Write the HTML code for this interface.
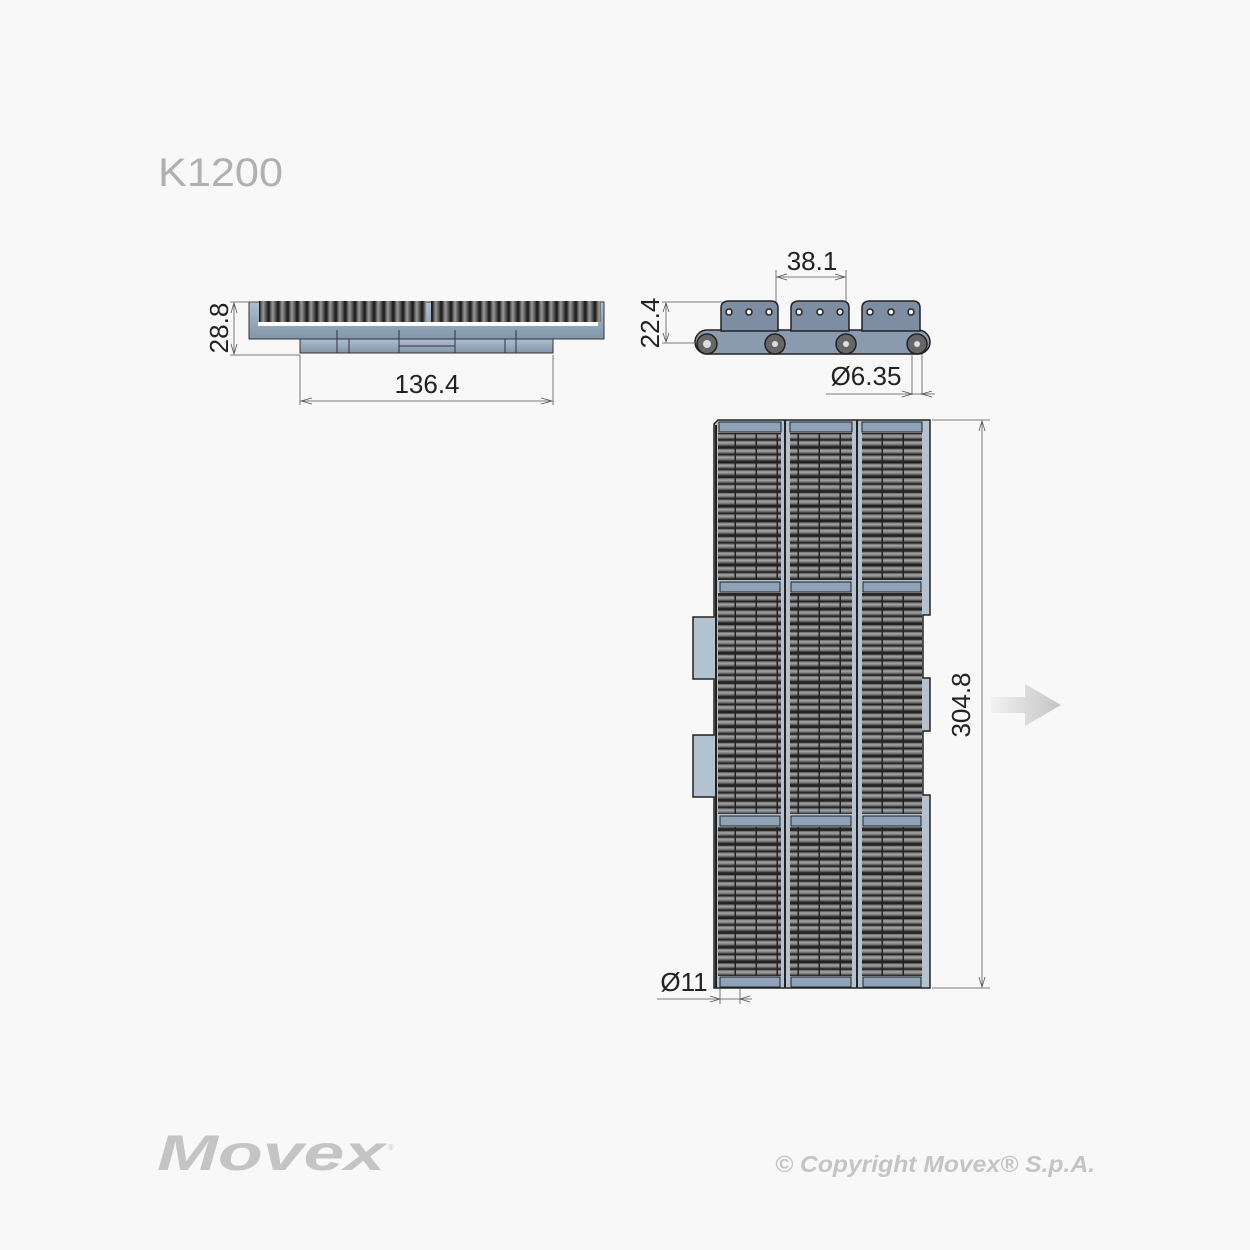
<!DOCTYPE html>
<html><head><meta charset="utf-8"><style>
html,body{margin:0;padding:0;background:#f8f8f8;}
svg{display:block}
text{font-family:"Liberation Sans",sans-serif;}
</style></head><body>
<svg width="1250" height="1250" viewBox="0 0 1250 1250" xmlns="http://www.w3.org/2000/svg">
<defs>
<linearGradient id="rl" x1="0" y1="0" x2="0" y2="1">
<stop offset="0" stop-color="#5a5a5a"/><stop offset="0.35" stop-color="#a8a8a8"/><stop offset="0.7" stop-color="#777"/><stop offset="1" stop-color="#2a2a2a"/>
</linearGradient>
<linearGradient id="rv" x1="0" y1="0" x2="1" y2="0">
<stop offset="0" stop-color="#3a3a3a"/><stop offset="0.4" stop-color="#9a9a9a"/><stop offset="1" stop-color="#333"/>
</linearGradient>
<linearGradient id="bl" x1="0" y1="0" x2="0" y2="1">
<stop offset="0" stop-color="#aebfcf"/><stop offset="1" stop-color="#8196ab"/>
</linearGradient>
<linearGradient id="ar" x1="0" y1="0" x2="1" y2="0">
<stop offset="0" stop-color="#f2f2f2"/><stop offset="1" stop-color="#c4c4c4"/>
</linearGradient>
<pattern id="rows" x="0" y="433" width="21" height="14.7" patternUnits="userSpaceOnUse">
<rect x="0" y="0" width="21" height="14.7" fill="#222"/>
<rect x="1" y="1" width="19.5" height="5.5" fill="url(#rl)"/>
<rect x="1" y="7.6" width="19.5" height="5.8" fill="url(#rl)"/>
</pattern>
<pattern id="vr" x="259" y="0" width="9.6" height="30" patternUnits="userSpaceOnUse">
<rect x="0" y="0" width="9.6" height="30" fill="#222"/>
<rect x="1" y="0" width="7.5" height="30" fill="url(#rv)"/>
</pattern>
</defs>

<text x="158" y="186" font-size="40" fill="#b0b0b0" textLength="125" lengthAdjust="spacingAndGlyphs">K1200</text>

<!-- Side view left -->
<rect x="249" y="302" width="355" height="37" fill="url(#bl)" stroke="#333" stroke-width="1"/>
<rect x="259" y="301" width="167" height="21" fill="url(#vr)"/>
<rect x="431" y="301" width="170" height="21" fill="url(#vr)"/>
<rect x="258" y="322" width="340" height="4" fill="#fff"/>
<rect x="300" y="339" width="253" height="14" fill="url(#bl)" stroke="#333" stroke-width="1"/>
<g stroke="#334" stroke-width="1">
<line x1="337" y1="330" x2="337" y2="353"/><line x1="349" y1="339" x2="349" y2="353"/>
<line x1="399" y1="330" x2="399" y2="353"/><line x1="455" y1="330" x2="455" y2="353"/>
<line x1="505" y1="339" x2="505" y2="353"/><line x1="516" y1="330" x2="516" y2="353"/>
<line x1="399" y1="346" x2="455" y2="346"/>
</g>
<g stroke="#555" stroke-width="0.8" fill="none">
<line x1="230" y1="302" x2="258" y2="302"/><line x1="230" y1="355" x2="300" y2="355"/>
<line x1="234" y1="303" x2="234" y2="354"/>
<line x1="300" y1="355" x2="300" y2="405"/><line x1="553" y1="355" x2="553" y2="405"/>
<line x1="301" y1="401" x2="552" y2="401"/>
<path d="M312 398 L301 401 L312 404 M541 398 L552 401 L541 404 M231 313 L234 303 L237 313 M231 344 L234 354 L237 344"/>
</g>
<text x="228" y="328" font-size="26" fill="#222" transform="rotate(-90 228 328)" text-anchor="middle">28.8</text>
<text x="427" y="393" font-size="26" fill="#222" text-anchor="middle">136.4</text>

<!-- Side view right -->
<g stroke="#222" stroke-width="1.5">
<rect x="695" y="330" width="235" height="24" rx="12" fill="#8a9bb0"/>
<path d="M721 331 L721 308 Q721 301 729 301 L771 301 Q778 301 778 308 L778 331 Z" fill="#7d8da2"/>
<path d="M791 331 L791 308 Q791 301 799 301 L842 301 Q849 301 849 308 L849 331 Z" fill="#7d8da2"/>
<path d="M862 331 L862 308 Q862 301 870 301 L913 301 Q920 301 920 308 L920 331 Z" fill="#7d8da2"/>
</g>
<g fill="#fff" stroke="#222" stroke-width="1.5">
<circle cx="729" cy="312" r="3"/><circle cx="749" cy="312" r="3"/><circle cx="769" cy="312" r="3"/>
<circle cx="799" cy="312" r="3"/><circle cx="820" cy="312" r="3"/><circle cx="840" cy="312" r="3"/>
<circle cx="870" cy="312" r="3"/><circle cx="891" cy="312" r="3"/><circle cx="911" cy="312" r="3"/>
</g>
<g fill="#666" stroke="#222" stroke-width="1.5">
<circle cx="707" cy="344" r="10"/><circle cx="775" cy="344" r="10"/><circle cx="846" cy="344" r="10"/><circle cx="917" cy="344" r="10"/>
</g>
<g fill="#ddd"><circle cx="707" cy="344" r="4"/><circle cx="775" cy="344" r="3"/><circle cx="846" cy="344" r="3"/><circle cx="917" cy="344" r="3"/></g>
<g stroke="#555" stroke-width="0.8" fill="none">
<line x1="662" y1="302" x2="722" y2="302"/><line x1="662" y1="343" x2="697" y2="343"/>
<line x1="666" y1="303" x2="666" y2="342"/>
<line x1="776" y1="270" x2="776" y2="302"/><line x1="846" y1="270" x2="846" y2="302"/>
<line x1="777" y1="277" x2="845" y2="277"/>
<line x1="912" y1="354" x2="912" y2="395"/><line x1="922" y1="354" x2="922" y2="395"/>
<line x1="826" y1="394" x2="935" y2="394"/>
<path d="M787 274 L777 277 L787 280 M835 274 L845 277 L835 280 M663 312 L666 303 L669 312 M663 333 L666 342 L669 333 M902 391 L912 394 L902 397 M932 391 L922 394 L932 397"/>
</g>
<text x="812" y="270" font-size="26" fill="#222" text-anchor="middle">38.1</text>
<text x="659" y="323" font-size="26" fill="#222" transform="rotate(-90 659 323)" text-anchor="middle">22.4</text>
<text x="866" y="385" font-size="26" fill="#222" text-anchor="middle">Ø6.35</text>

<!-- Plan view -->
<path d="M718 420 L930 420 L930 615 L923 615 L923 678 L930 678 L930 731 L923 731 L923 795 L930 795 L930 988 L714 988 L714 797 L693 797 L693 735 L714 735 L714 679 L693 679 L693 617 L714 617 L714 424 Z" fill="#b4c1cf" stroke="#222" stroke-width="1.5"/>
<g>
<rect x="718" y="433" width="63" height="147" fill="url(#rows)"/>
<rect x="790" y="433" width="62" height="147" fill="url(#rows)"/>
<rect x="862" y="433" width="60" height="147" fill="url(#rows)"/>
<rect x="718" y="593" width="63" height="221" fill="url(#rows)"/>
<rect x="790" y="593" width="62" height="221" fill="url(#rows)"/>
<rect x="862" y="593" width="60" height="221" fill="url(#rows)"/>
<rect x="718" y="827" width="63" height="149" fill="url(#rows)"/>
<rect x="790" y="827" width="62" height="149" fill="url(#rows)"/>
<rect x="862" y="827" width="60" height="149" fill="url(#rows)"/>
</g>
<g fill="#8ea3b8" stroke="#222" stroke-width="1">
<rect x="719" y="422" width="62" height="10"/><rect x="790" y="422" width="62" height="10"/><rect x="862" y="422" width="60" height="10"/>
<rect x="720" y="582" width="60" height="10"/><rect x="791" y="582" width="60" height="10"/><rect x="863" y="582" width="58" height="10"/>
<rect x="720" y="816" width="60" height="10"/><rect x="791" y="816" width="60" height="10"/><rect x="863" y="816" width="58" height="10"/>
<rect x="720" y="977" width="60" height="10"/><rect x="791" y="977" width="60" height="10"/><rect x="863" y="977" width="58" height="10"/>
</g>
<g stroke="#222" stroke-width="2">
<line x1="785" y1="420" x2="785" y2="988"/><line x1="857" y1="420" x2="857" y2="988"/>
<line x1="716" y1="425" x2="716" y2="988"/>
</g>
<g stroke="#555" stroke-width="0.8" fill="none">
<line x1="932" y1="420" x2="990" y2="420"/><line x1="932" y1="988" x2="990" y2="988"/>
<line x1="982" y1="421" x2="982" y2="987"/>
<path d="M979 431 L982 421 L985 431 M979 977 L982 987 L985 977"/>
<line x1="720" y1="988" x2="720" y2="1004"/><line x1="740" y1="988" x2="740" y2="1004"/>
<line x1="657" y1="999" x2="752" y2="999"/>
<path d="M710 996 L720 999 L710 1002 M750 996 L740 999 L750 1002"/>
</g>
<text x="970" y="705" font-size="26" fill="#222" transform="rotate(-90 970 705)" text-anchor="middle">304.8</text>
<text x="684" y="991" font-size="26" fill="#222" text-anchor="middle">Ø11</text>
<path d="M991 697 L1025 697 L1025 684 L1061 705 L1025 726 L1025 713 L991 713 Z" fill="url(#ar)"/>

<text x="157" y="1170" font-size="50" font-weight="bold" font-style="italic" font-family="Liberation Serif,serif" fill="#c4c4c4" textLength="228" lengthAdjust="spacingAndGlyphs">Movex</text>
<text x="388" y="1150" font-size="8" fill="#c4c4c4">®</text>
<text x="775" y="1172" font-size="23" font-style="italic" font-weight="bold" fill="#c4c4c4" textLength="320" lengthAdjust="spacingAndGlyphs">© Copyright Movex® S.p.A.</text>
</svg>
</body></html>
